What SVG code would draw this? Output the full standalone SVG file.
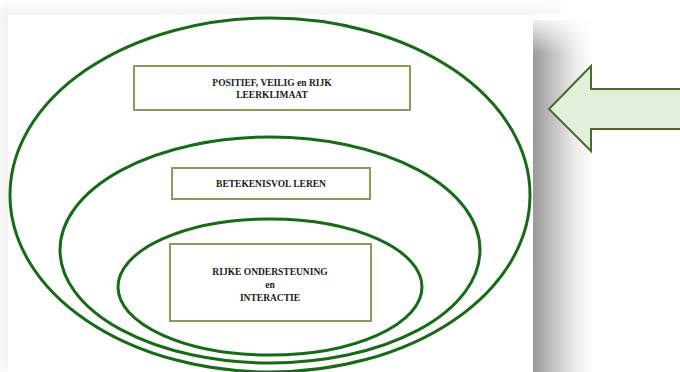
<svg xmlns="http://www.w3.org/2000/svg" width="680" height="372" viewBox="0 0 680 372">
<defs>
<linearGradient id="shR" x1="0" y1="0" x2="1" y2="0">
<stop offset="0" stop-color="#989898"/>
<stop offset="0.35" stop-color="#c4c4c4"/>
<stop offset="0.7" stop-color="#ececec"/>
<stop offset="1" stop-color="#ffffff"/>
</linearGradient>
<linearGradient id="shT" x1="0" y1="0" x2="0" y2="1">
<stop offset="0" stop-color="#ffffff"/>
<stop offset="1" stop-color="#ebebeb"/>
</linearGradient>
<linearGradient id="shRT" x1="0" y1="0" x2="0" y2="1">
<stop offset="0" stop-color="#ffffff" stop-opacity="1"/>
<stop offset="1" stop-color="#ffffff" stop-opacity="0"/>
</linearGradient>
<filter id="blur" x="-20%" y="-20%" width="140%" height="140%"><feGaussianBlur stdDeviation="6"/></filter>
<style>
.ell{fill:none;stroke:#176b17;stroke-width:3}
.box{fill:#ffffff;stroke:#8b9a5a;stroke-width:2}
.t{font-family:"Liberation Serif","Times New Roman",serif;font-weight:bold;font-size:9.5px;fill:#1a1a1a;text-anchor:middle}
.arrow{fill:#e2efda;stroke:#4b6b2d;stroke-width:2}
</style>
</defs>
<rect width="680" height="372" fill="#ffffff"/>
<rect x="0" y="0" width="560" height="20" fill="url(#shT)" filter="url(#blur)" opacity="0.9"/>
<rect x="0" y="10" width="12" height="362" fill="#f0f0f0" filter="url(#blur)"/>
<rect x="533" y="20" width="60" height="352" fill="url(#shR)"/>
<rect x="533" y="14" width="62" height="40" fill="url(#shRT)"/>
<rect x="8" y="15" width="525" height="357" fill="#ffffff"/>
<g id="outer"><ellipse class="ell" cx="270" cy="195" rx="260" ry="177"/></g>
<g id="middle"><ellipse class="ell" cx="270" cy="250" rx="210" ry="113"/></g>
<g id="inner"><ellipse class="ell" cx="270" cy="287" rx="152" ry="68"/></g>
<g id="box1">
<rect class="box" x="134" y="66" width="276" height="44"/>
<text class="t" x="272" y="86">POSITIEF, VEILIG en RIJK</text>
<text class="t" x="272" y="98">LEERKLIMAAT</text>
</g>
<g id="box2">
<rect class="box" x="172" y="168" width="198" height="31"/>
<text class="t" x="271" y="187">BETEKENISVOL LEREN</text>
</g>
<g id="box3">
<rect class="box" x="170" y="244" width="201" height="77"/>
<text class="t" x="270" y="275">RIJKE ONDERSTEUNING</text>
<text class="t" x="270" y="288">en</text>
<text class="t" x="270" y="301">INTERACTIE</text>
</g>
<g id="arrow">
<polygon class="arrow" points="549,109 591,66 591,89 682,89 682,129 591,129 591,151"/>
</g>
<g id="connectors"></g>
</svg>
